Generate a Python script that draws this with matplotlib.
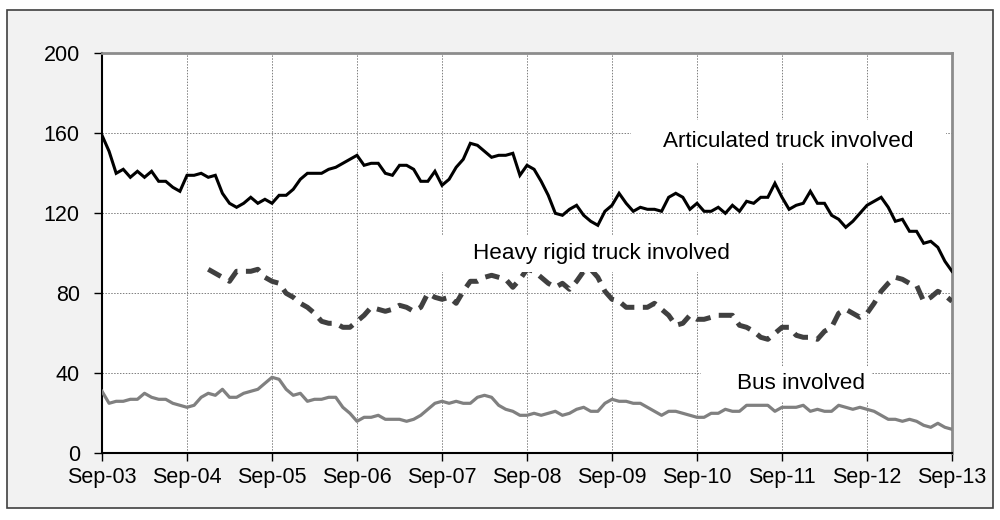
import matplotlib
matplotlib.use("Agg")
import matplotlib.pyplot as plt
from matplotlib.patches import Rectangle
import numpy as np

plt.rcParams['font.family'] = ['Liberation Sans', 'DejaVu Sans']

# ---- data (monthly, Sep-03 .. Sep-13) ----
tick_labels = ["Sep-03", "Sep-04", "Sep-05", "Sep-06", "Sep-07", "Sep-08",
               "Sep-09", "Sep-10", "Sep-11", "Sep-12", "Sep-13"]

articulated = [159, 151, 140, 142, 138, 141, 138, 141, 136, 136, 133, 131,
               139, 139, 140, 138, 139, 130, 125, 123, 125, 128, 125, 127,
               125, 129, 129, 132, 137, 140, 140, 140, 142, 143, 145, 147,
               149, 144, 145, 145, 140, 139, 144, 144, 142, 136, 136, 141,
               134, 137, 143, 147, 155, 154, 151, 148, 149, 149, 150, 139,
               144, 142, 136, 129, 120, 119, 122, 124, 119, 116, 114, 121,
               124, 130, 125, 121, 123, 122, 122, 121, 128, 130, 128, 122,
               125, 121, 121, 123, 120, 124, 121, 126, 125, 128, 128, 135,
               128, 122, 124, 125, 131, 125, 125, 119, 117, 113, 116, 120,
               124, 126, 128, 123, 116, 117, 111, 111, 105, 106, 103, 96, 91]

heavy_rigid = [None] * 15 + [
               92, 90, 88, 86, 91, 91, 91, 92, 88,
               86, 85, 80, 78, 75, 73, 70, 66, 65, 65, 63, 63,
               66, 69, 73, 72, 71, 72, 74, 73, 71, 73, 80, 78,
               77, 78, 75, 81, 86, 86, 88, 89, 88, 87, 83, 87,
               92, 91, 88, 85, 83, 85, 82, 86, 91, 92, 88, 81,
               77, 76, 73, 73, 73, 73, 75, 72, 69, 64, 65, 69,
               67, 67, 68, 69, 69, 69, 64, 63, 61, 58, 57, 60,
               63, 63, 59, 58, 58, 57, 61, 63, 70, 72, 70, 68,
               70, 75, 81, 85, 88, 87, 85, 84, 76, 78, 81, 79, 76]

bus = [31, 25, 26, 26, 27, 27, 30, 28, 27, 27, 25, 24,
       23, 24, 28, 30, 29, 32, 28, 28, 30, 31, 32, 35,
       38, 37, 32, 29, 30, 26, 27, 27, 28, 28, 23, 20,
       16, 18, 18, 19, 17, 17, 17, 16, 17, 19, 22, 25,
       26, 25, 26, 25, 25, 28, 29, 28, 24, 22, 21, 19,
       19, 20, 19, 20, 21, 19, 20, 22, 23, 21, 21, 25,
       27, 26, 26, 25, 25, 23, 21, 19, 21, 21, 20, 19,
       18, 18, 20, 20, 22, 21, 21, 24, 24, 24, 24, 21,
       23, 23, 23, 24, 21, 22, 21, 21, 24, 23, 22, 23,
       22, 21, 19, 17, 17, 16, 17, 16, 14, 13, 15, 13, 12]

series_labels = ["Articulated truck involved", "Heavy rigid truck involved", "Bus involved"]

# ---- figure ----
W, H = 1000, 520
fig = plt.figure(figsize=(W / 100, H / 100), dpi=100, facecolor="white")

# outer grey frame
frame = Rectangle((7 / W, 1 - 508 / H), (993 - 7) / W, (508 - 10) / H,
                  transform=fig.transFigure, facecolor="#f2f2f2",
                  edgecolor="#404040", linewidth=1.2, zorder=-10)
fig.patches.append(frame)

ax = fig.add_axes([102 / W, 1 - 453.3 / H, 850 / W, 400 / H])
ax.set_zorder(5)
ax.set_facecolor("white")

x = np.arange(len(articulated))
heavy_arr = np.array([np.nan if v is None else v for v in heavy_rigid], dtype=float)

ax.plot(x, articulated, color="black", lw=2.2, zorder=3, solid_joinstyle="miter")
ax.plot(x, heavy_arr, color="#404040", lw=3.6, zorder=3,
        dashes=(2.9, 1.7), dash_capstyle="butt")
ax.plot(x, bus, color="#808080", lw=2.3, zorder=3)

ax.set_xlim(0, 120)
ax.set_ylim(0, 200)
ax.set_yticks(np.arange(0, 201, 40))
ax.set_xticks(np.arange(0, 121, 12))
ax.set_xticklabels(tick_labels)

ax.grid(True, color="#7f7f7f", linestyle=(0, (1.5, 1.5)), linewidth=0.7, zorder=1)
ax.set_axisbelow(True)

for s in ["left", "bottom"]:
    ax.spines[s].set_color("black")
    ax.spines[s].set_linewidth(1.5)
for s in ["top", "right"]:
    ax.spines[s].set_color("#8c8c8c")
    ax.spines[s].set_linewidth(2.0)

ax.tick_params(axis="y", direction="out", length=6, width=1, labelsize=15.5, pad=10)
ax.tick_params(axis="x", direction="out", length=6, width=1, labelsize=15.5, pad=4)

# label boxes (white, drawn over lines and grid)
boxes = [
    # (x0, y0, x1, y1, text_x, text_y)
    (74.7, 145.2, 119.2, 166.7, 79.2, 155.9),
    (47.9, 90.7, 92.9, 109.2, 52.4, 99.7),
    (84.6, 25.7, 108.6, 43.7, 89.7, 34.7),
]
for (x0, y0, x1, y1, tx, ty), lab in zip(boxes, series_labels):
    ax.add_patch(Rectangle((x0, y0), x1 - x0, y1 - y0, facecolor="white",
                           edgecolor="none", zorder=4))
    ax.text(tx, ty, lab, fontsize=16.2, ha="left", va="center", zorder=5, color="black")

fig.savefig("out.png", dpi=100, facecolor=fig.get_facecolor())
